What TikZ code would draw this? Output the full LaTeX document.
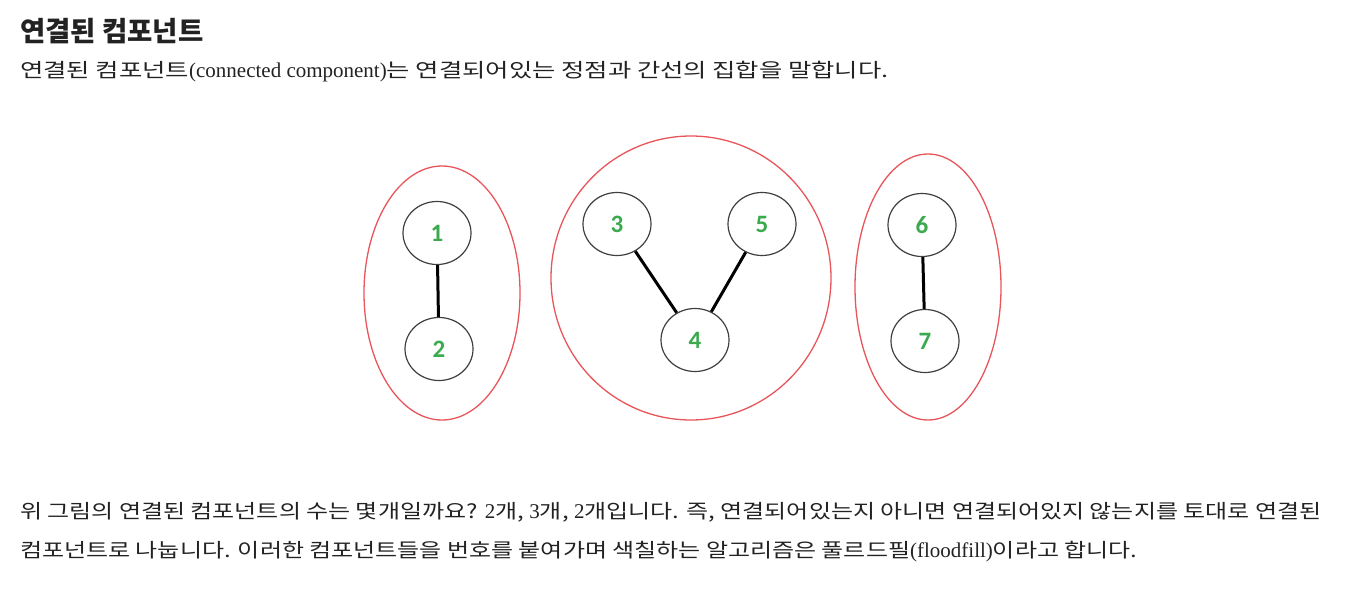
\documentclass[tikz,border=0pt]{standalone}
\usepackage{fontspec}
\usepackage{xcolor}
\usepackage{tikz}
\usetikzlibrary{shapes.geometric}
\setmainfont{Noto Sans CJK KR}
\newfontfamily\bodyfont[FakeStretch=1.23]{Noto Sans CJK KR}
\newfontfamily\introfont[FakeStretch=1.30]{Noto Sans CJK KR}
\newfontfamily\latfont{Liberation Serif}
\newfontfamily\numfont{Carlito}
\definecolor{grpEdge}{HTML}{E8555A}
\definecolor{vtxEdge}{HTML}{404040}
\definecolor{numCol}{HTML}{3BAA4E}
\definecolor{txtCol}{HTML}{222222}
\tikzset{
  vertex/.style={ellipse, draw=vtxEdge, fill=white, line width=1.2pt,
        minimum width=68pt, minimum height=63pt, inner sep=0pt,
        font=\numfont\bfseries\fontsize{25}{25}\selectfont, text=numCol},
  group/.style={ellipse, draw=grpEdge, line width=1.3pt, inner sep=0pt},
  link/.style={draw=black, line width=3pt},
  heading/.style={anchor=base west, inner sep=0pt, text=txtCol,
        font=\bfseries\fontsize{27.5}{30}\selectfont},
  para/.style={anchor=base west, inner sep=0pt, text=txtCol,
        font=\bodyfont\fontsize{19.5}{24}\selectfont},
}
\newcommand{\lt}[1]{{\latfont\fontsize{21}{24}\selectfont #1}}

\begin{document}
\begin{tikzpicture}[x=1pt, y=-1pt]
  \useasboundingbox (0,0) rectangle (1350,600);
  \node[heading] (title) at (20,41) {연결된 컴포넌트};
  \node[para, font=\introfont\fontsize{19.5}{24}\selectfont] (intro) at (20,77)
    {연결된 컴포넌트\lt{(connected component)}는 연결되어있는 정점과 간선의 집합을 말합니다.};
  \node[group, minimum width=156pt, minimum height=254pt] (grpA) at (442,293) {};
  \node[group, minimum width=280pt, minimum height=284pt] (grpB) at (691,278) {};
  \node[group, minimum width=146pt, minimum height=266pt] (grpC) at (928,287) {};
  \node[vertex] (v1) at (437,233) {1};
  \node[vertex] (v2) at (439,349) {2};
  \node[vertex] (v3) at (617,224) {3};
  \node[vertex] (v5) at (762,224) {5};
  \node[vertex] (v4) at (695,340) {4};
  \node[vertex] (v6) at (922,225) {6};
  \node[vertex] (v7) at (925,341) {7};
  \draw[link] (v1) -- (v2);
  \draw[link] (v3) -- (v4);
  \draw[link] (v5) -- (v4);
  \draw[link] (v6) -- (v7);
  \node[para] (body1) at (20,518)
    {위 그림의 연결된 컴포넌트의 수는 몇개일까요? \lt{2}개, \lt{3}개, \lt{2}개입니다. 즉, 연결되어있는지 아니면 연결되어있지 않는지를 토대로 연결된};
  \node[para] (body2) at (20,557)
    {컴포넌트로 나눕니다. 이러한 컴포넌트들을 번호를 붙여가며 색칠하는 알고리즘은 풀르드필\lt{(floodfill)}이라고 합니다.};
\end{tikzpicture}
\end{document}
